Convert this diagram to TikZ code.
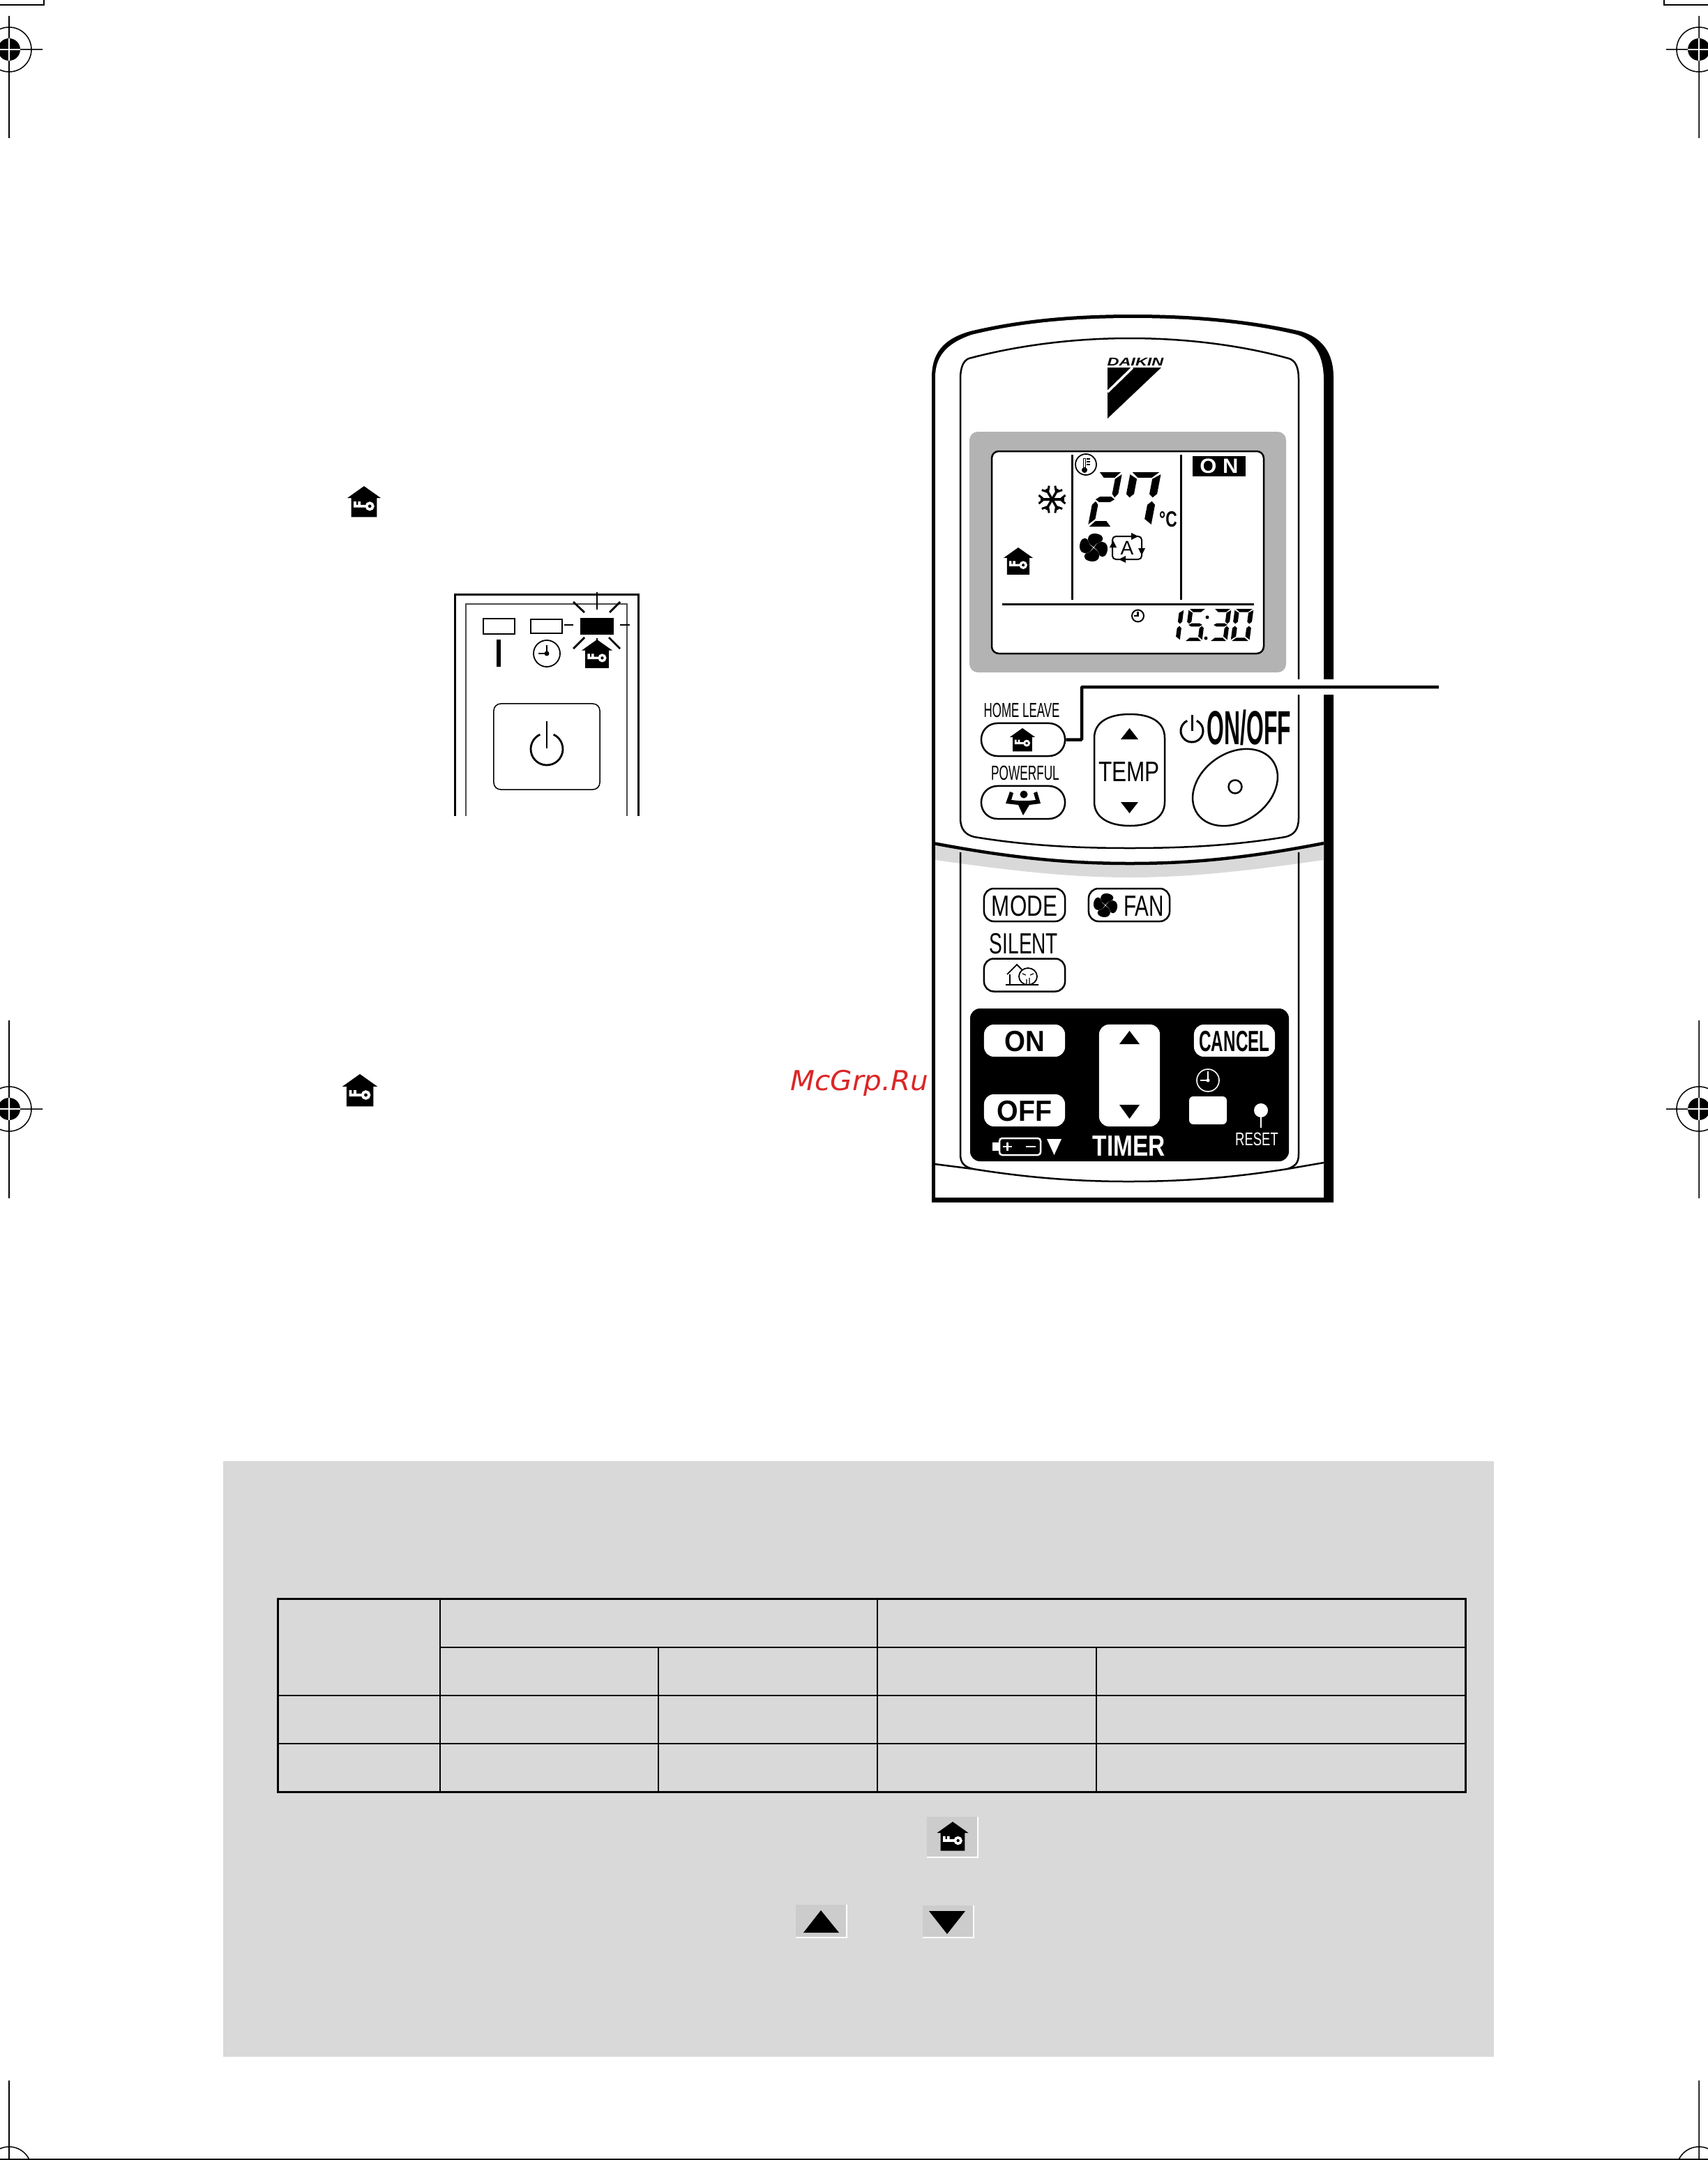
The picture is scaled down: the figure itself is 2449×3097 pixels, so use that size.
\documentclass[tikz,border=0pt]{standalone}
\usepackage{fontspec}
\setsansfont{Liberation Sans}
\newfontfamily\wmfont{DejaVu Sans}
\definecolor{panelgray}{HTML}{B3B3B3}
\definecolor{notegray}{HTML}{D9D9D9}
\definecolor{keygray}{HTML}{CCCCCC}
\definecolor{wmred}{HTML}{DC2626}
\tikzset{
  lab/.style={font=\sffamily,inner sep=0,anchor=base,transform shape},
  btn/.style={draw,line width=.025cm,inner sep=0,minimum height=.47cm,minimum width=1.16cm,rounded corners=.14cm},
  whitebtn/.style={fill=white,inner sep=0,minimum height=.46cm,minimum width=1.16cm,rounded corners=.14cm},
  sega/.pic={\fill (.08,0)--(.92,0)--(.72,.2)--(.28,.2)--cycle;},
  segb/.pic={\fill (.98,.08)--(.98,.8)--(.86,.93)--(.74,.8)--(.74,.25)--cycle;},
  segc/.pic={\fill (.98,1.2)--(.98,1.92)--(.74,1.72)--(.74,1.2)--(.86,1.07)--cycle;},
  segd/.pic={\fill (.08,2)--(.92,2)--(.72,1.8)--(.28,1.8)--cycle;},
  sege/.pic={\fill (.02,1.2)--(.02,1.92)--(.26,1.72)--(.26,1.2)--(.14,1.07)--cycle;},
  segf/.pic={\fill (.02,.08)--(.02,.8)--(.14,.93)--(.26,.8)--(.26,.25)--cycle;},
  segg/.pic={\fill (.12,1)--(.28,.9)--(.72,.9)--(.88,1)--(.72,1.1)--(.28,1.1)--cycle;},
}
\newcommand{\lcddigit}[6]{\begin{scope}[shift={(#1,#2)},x={(#3*.01cm,0cm)},y={(-#5*.01cm,-#4*.01cm)}]
    \foreach \s in {#6} {\pic {seg\s};}
  \end{scope}}
\newcommand{\homeicon}[3]{\begin{scope}[shift={(#1,#2)},x=#3*.01cm,y=-#3*.01cm]
    \fill (0,0)--(.5,.355)--(.385,.355)--(.385,.926)--(-.385,.926)--(-.385,.355)--(-.5,.355)--cycle;
    \draw [white,line width=#3*.0008cm] (.17,.6) circle [radius=.095] (.075,.6)--(-.27,.6)--(-.27,.46) (-.14,.6)--(-.14,.46);
  \end{scope}}
\newcommand{\fanicon}[3]{\begin{scope}[shift={(#1,#2)},x=#3*.01cm,y=-#3*.01cm]
    \foreach \a in {0,90,180,270}
      \fill [rotate=\a] (.03,-.04) .. controls (-.6,-.3) and (-.5,-1) .. (.05,-1) .. controls (.55,-1) and (.8,-.7) .. (.6,-.45) .. controls (.35,-.35) and (.12,-.28) .. (.03,-.04);
  \end{scope}}
\newcommand{\regmark}[5]{\draw [line width=.015cm] (#1,#2) circle [radius=32] (#5,#2)--(#1,#2) (#1,#3)--(#1,#4);
  \fill (#1,#2) circle [radius=16];
  \draw [white,line width=.015cm] (#1-16,#2)--(#1+16,#2) (#1,#2-16)--(#1,#2+16);}
\newcommand{\keybox}[4]{\fill [keygray] (#1,#2) rectangle (#3,#4);
  \draw [white,line width=.012cm] (#1,#4)--(#3,#4)--(#3,#2);}
\begin{document}
\begin{tikzpicture}[>=stealth,x=.01cm,y=-.01cm,line width=.025cm]
  \clip (0,0) rectangle (2449,3097);
  \fill [white] (0,0) rectangle (2449,3097);
  % printer marks
  \regmark{13}{71}{23}{198}{61}
  \regmark{2436}{71}{23}{198}{2389}
  \regmark{13}{1590}{1463}{1718}{61}
  \regmark{2436}{1590}{1463}{1718}{2389}
  \draw [line width=.015cm] (13,3110) circle [radius=32] (13,2983)--(13,3097);
  \draw [line width=.015cm] (2436,3110) circle [radius=32] (2436,2983)--(2436,3097);
  \draw [line width=.015cm] (0,7)--(63,7)--(63,0) (2449,7)--(2386,7)--(2386,0);
  \draw [line width=.03cm] (0,3096)--(2449,3096);
  % small front panel
  \draw [line width=.03cm] (652,1170)--(652,852)--(915,852)--(915,1170);
  \draw [line width=.015cm,black!70] (668,1170)--(668,866)--(899,866)--(899,1170);
  \draw [line width=.015cm] (693,887) rectangle (738,909);
  \draw [line width=.028cm] (761,888) rectangle (806,908);
  \fill (832,886) rectangle (880,910);
  \foreach \xa/\ya/\xb/\yb in {856/849/856/874,822/863/838/878,889/863/874/878,809/896/822/896,889/896/903/896,838/914/822/930,873/914/889/930,856/915/856/922}
    \draw [line width=.028cm] (\xa,\ya)--(\xb,\yb);
  \fill (712,917) rectangle (718,956);
  \draw [line width=.018cm] (784,937) circle [radius=19];
  \draw [line width=.022cm] (784,925)--(784,937)--(772,937);
  \fill (784,937) circle [radius=3.5];
  \homeicon{856}{917}{44}
  \node (stbybtn) [draw,line width=.015cm,inner sep=0,minimum width=1.52cm,minimum height=1.23cm,rounded corners=.1cm] at (784,1070.5) {};
  \draw [line width=.028cm] ([shift={(-65:23)}]784,1074) arc [start angle=-65,end angle=245,radius=23];
  \draw [line width=.028cm] (784,1034)--(784,1073);
  % text icons
  \homeicon{522}{697}{48}
  \homeicon{516}{1540}{50}
  % remote case
  \fill (1336,1724)--(1336,541) .. controls (1336,500) and (1360,484) .. (1391,475) .. controls (1470,456) and (1550,451) .. (1624,451) .. controls (1710,451) and (1790,458) .. (1865,475) .. controls (1895,484) and (1912,505) .. (1912,541)--(1912,1724)--cycle;
  \fill [white] (1341,1717)--(1341,541) .. controls (1341,505) and (1365,490) .. (1393,480) .. controls (1470,461) and (1550,456) .. (1624,456) .. controls (1710,456) and (1790,463) .. (1860,480) .. controls (1885,488) and (1898,510) .. (1898,545)--(1898,1717)--cycle;
  \draw (1377,1173)--(1377,544) .. controls (1377,525) and (1382,517) .. (1389,514) .. controls (1460,495) and (1540,485) .. (1620,485) .. controls (1700,485) and (1780,495) .. (1848,514) .. controls (1857,517) and (1862,525) .. (1862,544)--(1862,1173) .. controls (1862,1190) and (1855,1197) .. (1843,1200) .. controls (1770,1212) and (1700,1216) .. (1620,1216) .. controls (1540,1216) and (1470,1212) .. (1397,1200) .. controls (1385,1197) and (1377,1190) .. (1377,1173)--cycle;
  \fill [notegray] (1341,1210) .. controls (1460,1232) and (1540,1238) .. (1620,1238) .. controls (1700,1238) and (1780,1232) .. (1898,1210)--(1898,1233) .. controls (1780,1250) and (1700,1258) .. (1620,1258) .. controls (1540,1258) and (1460,1250) .. (1341,1233)--cycle;
  \draw (1377,1222)--(1377,1655) .. controls (1377,1668) and (1383,1673) .. (1395,1676) .. controls (1470,1688) and (1540,1694) .. (1618,1694) .. controls (1700,1694) and (1770,1688) .. (1846,1676) .. controls (1857,1672) and (1862,1668) .. (1862,1655)--(1862,1222);
  \draw (1340,1669)--(1395,1676) (1846,1676)--(1898,1667);
  \draw [line width=.045cm] (1338,1209) .. controls (1460,1232) and (1540,1238) .. (1620,1238) .. controls (1700,1238) and (1780,1232) .. (1898,1209);
  % logo
  \node (logotext) [lab,font=\fontsize{4.6}{5}\sffamily\bfseries\itshape,xscale=1.45] at (1628,524) {DAIKIN};
  \fill (1588,527)--(1665,527)--(1588,600)--cycle;
  \draw [white,line width=.035cm] (1624,527)--(1588,562);
  % display
  \fill [panelgray,rounded corners=.12cm] (1390,619) rectangle (1844,964);
  \draw [fill=white,rounded corners=.1cm] (1422,647) rectangle (1812,937);
  \draw [line width=.03cm] (1537,652)--(1537,860) (1693.5,652)--(1693.5,860) (1437,866)--(1798,866);
  \fill (1710,654) rectangle (1786,683);
  \node (ontext) [lab,white,font=\fontsize{8.4}{9}\sffamily\bfseries,xscale=1.05] at (1748,678) {O N};
  \draw [line width=.018cm] (1557,666) circle [radius=15];
  \draw [line width=.045cm] (1555,657)--(1555,672);
  \draw [white,line width=.015cm] (1555,658)--(1555,670);
  \fill (1555,674) circle [radius=4];
  \draw [line width=.012cm] (1558,658)--(1563,658) (1558,662)--(1563,662) (1558,666)--(1563,666);
  \lcddigit{1574}{677}{36}{39}{7.5}{a,b,g,e,d}
  \lcddigit{1620}{677}{46}{39}{7.5}{a,f,b,c}
  \node (deg) [lab,font=\fontsize{9}{10}\sffamily\bfseries,xscale=.72] at (1675,755) {°C};
  \begin{scope}[shift={(1508.5,716)}]
    \foreach \a in {30,90,...,330} {
      \draw [line width=.035cm,rotate=\a] (0,0)--(0,-17);
      \draw [line width=.03cm,rotate=\a] (-6,-19)--(0,-12)--(6,-19);
    }
  \end{scope}
  \fanicon{1568}{785}{20}
  \draw [line width=.02cm,rounded corners=.05cm] (1595,769) rectangle (1637,802);
  \fill (1596,775)--(1591,785)--(1601,785)--cycle;
  \fill (1632,769)--(1622,764)--(1622,774)--cycle;
  \fill (1637,796)--(1632,786)--(1642,786)--cycle;
  \fill (1604,802)--(1614,797)--(1614,807)--cycle;
  \node (fanauto) [lab,font=\fontsize{8}{9}\sffamily] at (1616,795) {A};
  \homeicon{1460}{785}{42}
  \draw [line width=.02cm] (1631.5,883) circle [radius=8.5];
  \draw (1631.5,877)--(1631.5,883)--(1626,883);
  \lcddigit{1672}{873}{26}{23}{3}{b,c}
  \lcddigit{1704}{873}{26}{23}{3}{a,f,g,c,d}
  \fill (1731,885) circle [radius=2.5] (1729,915) circle [radius=2.5];
  \lcddigit{1740}{873}{26}{23}{3}{a,b,g,c,d}
  \lcddigit{1770}{873}{28}{23}{3}{a,b,c,d,e,f}
  % upper buttons
  \node (homelabel) [lab,font=\fontsize{8.3}{9}\sffamily,xscale=.58] at (1465,1028) {HOME LEAVE};
  \node (homebtn) [btn,minimum width=1.2cm,minimum height=.47cm,rounded corners=.23cm] at (1467,1060.5) {};
  \homeicon{1466}{1044}{36}
  \node (powerlabel) [lab,font=\fontsize{8.3}{9}\sffamily,xscale=.59] at (1470,1118) {POWERFUL};
  \node (powerbtn) [btn,minimum width=1.2cm,minimum height=.47cm,rounded corners=.23cm] at (1467,1150.5) {};
  \fill (1468,1139) circle [radius=5.5];
  \fill (1442,1152)--(1448,1135)--(1453,1137)--(1450,1147)--(1460,1148)--(1476,1148)--(1485,1147)--(1482,1137)--(1487,1135)--(1492,1152)--(1476,1154)--(1467,1169)--(1460,1154)--cycle;
  \draw (1569,1058) .. controls (1569,1035) and (1590,1024) .. (1620,1024) .. controls (1650,1024) and (1670,1035) .. (1670,1058)--(1670,1150) .. controls (1670,1172) and (1650,1184) .. (1620,1184) .. controls (1590,1184) and (1569,1172) .. (1569,1150)--cycle;
  \fill (1607,1060)--(1632,1060)--(1619.5,1044)--cycle;
  \fill (1607,1150)--(1632,1150)--(1619.5,1166)--cycle;
  \node (templabel) [lab,font=\fontsize{11.5}{12}\sffamily,xscale=.78] at (1619,1120) {TEMP};
  \draw [line width=.03cm] ([shift={(-65:16)}]1709,1048) arc [start angle=-65,end angle=245,radius=16];
  \draw [line width=.03cm] (1709,1025)--(1709,1048);
  \node (onofflabel) [lab,font=\fontsize{19.5}{20}\sffamily\bfseries,xscale=.465] at (1791,1067) {ON/OFF};
  \draw [rotate around={35:(1771,1129)}] (1771,1129) circle [x radius=66,y radius=49];
  \draw (1771,1128) circle [radius=9.5];
  % leader
  \coordinate (leaderend) at (2063,985);
  \draw [white,line width=.22cm] (1855,985)--(1916,985);
  \draw [line width=.045cm,rounded corners=.01cm] (homebtn.east) -| (1551,985) -- (leaderend);
  % lower buttons
  \node (modebtn) [btn] at (1469,1297.5) {};
  \node (modelabel) [lab,font=\fontsize{11.9}{12}\sffamily,xscale=.75] at (1469,1313) {MODE};
  \node (fanbtn) [btn] at (1619,1297.5) {};
  \fanicon{1585}{1298}{17}
  \node (fanlabel) [lab,font=\fontsize{11.9}{12}\sffamily,xscale=.71] at (1640,1313) {FAN};
  \node (silentlabel) [lab,font=\fontsize{11.9}{12}\sffamily,xscale=.67] at (1468,1367) {SILENT};
  \node (silentbtn) [btn] at (1469,1398) {};
  \draw [line width=.018cm] (1442,1412)--(1489,1412) (1448,1412)--(1448,1397) (1444,1397)--(1458,1383)--(1465,1390);
  \draw [line width=.018cm] (1474,1400) ellipse [x radius=13,y radius=12];
  \draw [line width=.012cm] (1466,1396)--(1471,1398) (1477,1398)--(1482,1396) (1472,1412)--(1472,1404) (1476,1412)--(1476,1402);
  % timer block
  \fill [rounded corners=.14cm] (1391,1446) rectangle (1848,1665);
  \node (onbtn) [whitebtn] at (1469,1492) {};
  \node (onlabel) [lab,font=\fontsize{11.9}{12}\sffamily\bfseries,xscale=.92] at (1469,1507) {ON};
  \node (offbtn) [whitebtn] at (1469,1592) {};
  \node (offlabel) [lab,font=\fontsize{11.9}{12}\sffamily\bfseries,xscale=.94] at (1469,1607) {OFF};
  \node (timerbtn) [whitebtn,minimum width=.87cm,minimum height=1.46cm] at (1619.5,1542) {};
  \fill (1605,1497)--(1634,1497)--(1619.5,1478)--cycle;
  \fill (1605,1584)--(1634,1584)--(1619.5,1604)--cycle;
  \node (cancelbtn) [whitebtn] at (1770,1492) {};
  \node (cancellabel) [lab,font=\fontsize{11.9}{12}\sffamily\bfseries,xscale=.58] at (1770,1507) {CANCEL};
  \draw [white,line width=.016cm] (1732,1549) circle [radius=16];
  \draw [white,line width=.02cm] (1732,1536)--(1732,1549)--(1721,1549);
  \fill [white] (1732,1549) circle [radius=2.5];
  \fill [white,rounded corners=.06cm] (1705,1572) rectangle (1759,1612);
  \fill [white] (1808,1592) circle [radius=10];
  \draw [white,line width=.02cm] (1808,1592)--(1808,1617);
  \node (resetlabel) [lab,white,font=\fontsize{7.5}{8}\sffamily,xscale=.7] at (1802,1642) {RESET};
  \node (timerlabel) [lab,white,font=\fontsize{11.9}{12}\sffamily\bfseries,xscale=.8] at (1619,1657) {TIMER};
  \draw [white,line width=.025cm,rounded corners=.04cm] (1433,1632) rectangle (1492,1656);
  \fill [white] (1423,1638) rectangle (1432,1650);
  \draw [white,line width=.025cm] (1438,1644)--(1451,1644) (1444.5,1638)--(1444.5,1650) (1471,1644)--(1485,1644);
  \fill [white] (1501,1633)--(1522,1633)--(1511.5,1656)--cycle;
  \node (wmark) [anchor=base west,inner sep=0,text=wmred,font=\fontsize{11.2}{12}\wmfont\itshape,xscale=1.03,transform shape] at (1132,1563) {McGrp.Ru};
  % note block with table
  \fill [notegray] (320,2095) rectangle (2142,2949);
  \draw [line width=.03cm] (398,2292) rectangle (2101,2569);
  \draw [line width=.02cm] (631,2292)--(631,2569) (1258,2292)--(1258,2569) (944,2362)--(944,2569) (1572,2362)--(1572,2569);
  \draw [line width=.02cm] (631,2362)--(2101,2362) (398,2431)--(2101,2431) (398,2500)--(2101,2500);
  \keybox{1329}{2605}{1402}{2663}
  \homeicon{1366}{2612}{45}
  \keybox{1141}{2731}{1214}{2778}
  \fill (1152,2771)--(1203,2771)--(1177,2739)--cycle;
  \keybox{1323}{2732}{1396}{2778}
  \fill (1332,2740)--(1384,2740)--(1358,2773)--cycle;
\end{tikzpicture}
\end{document}
